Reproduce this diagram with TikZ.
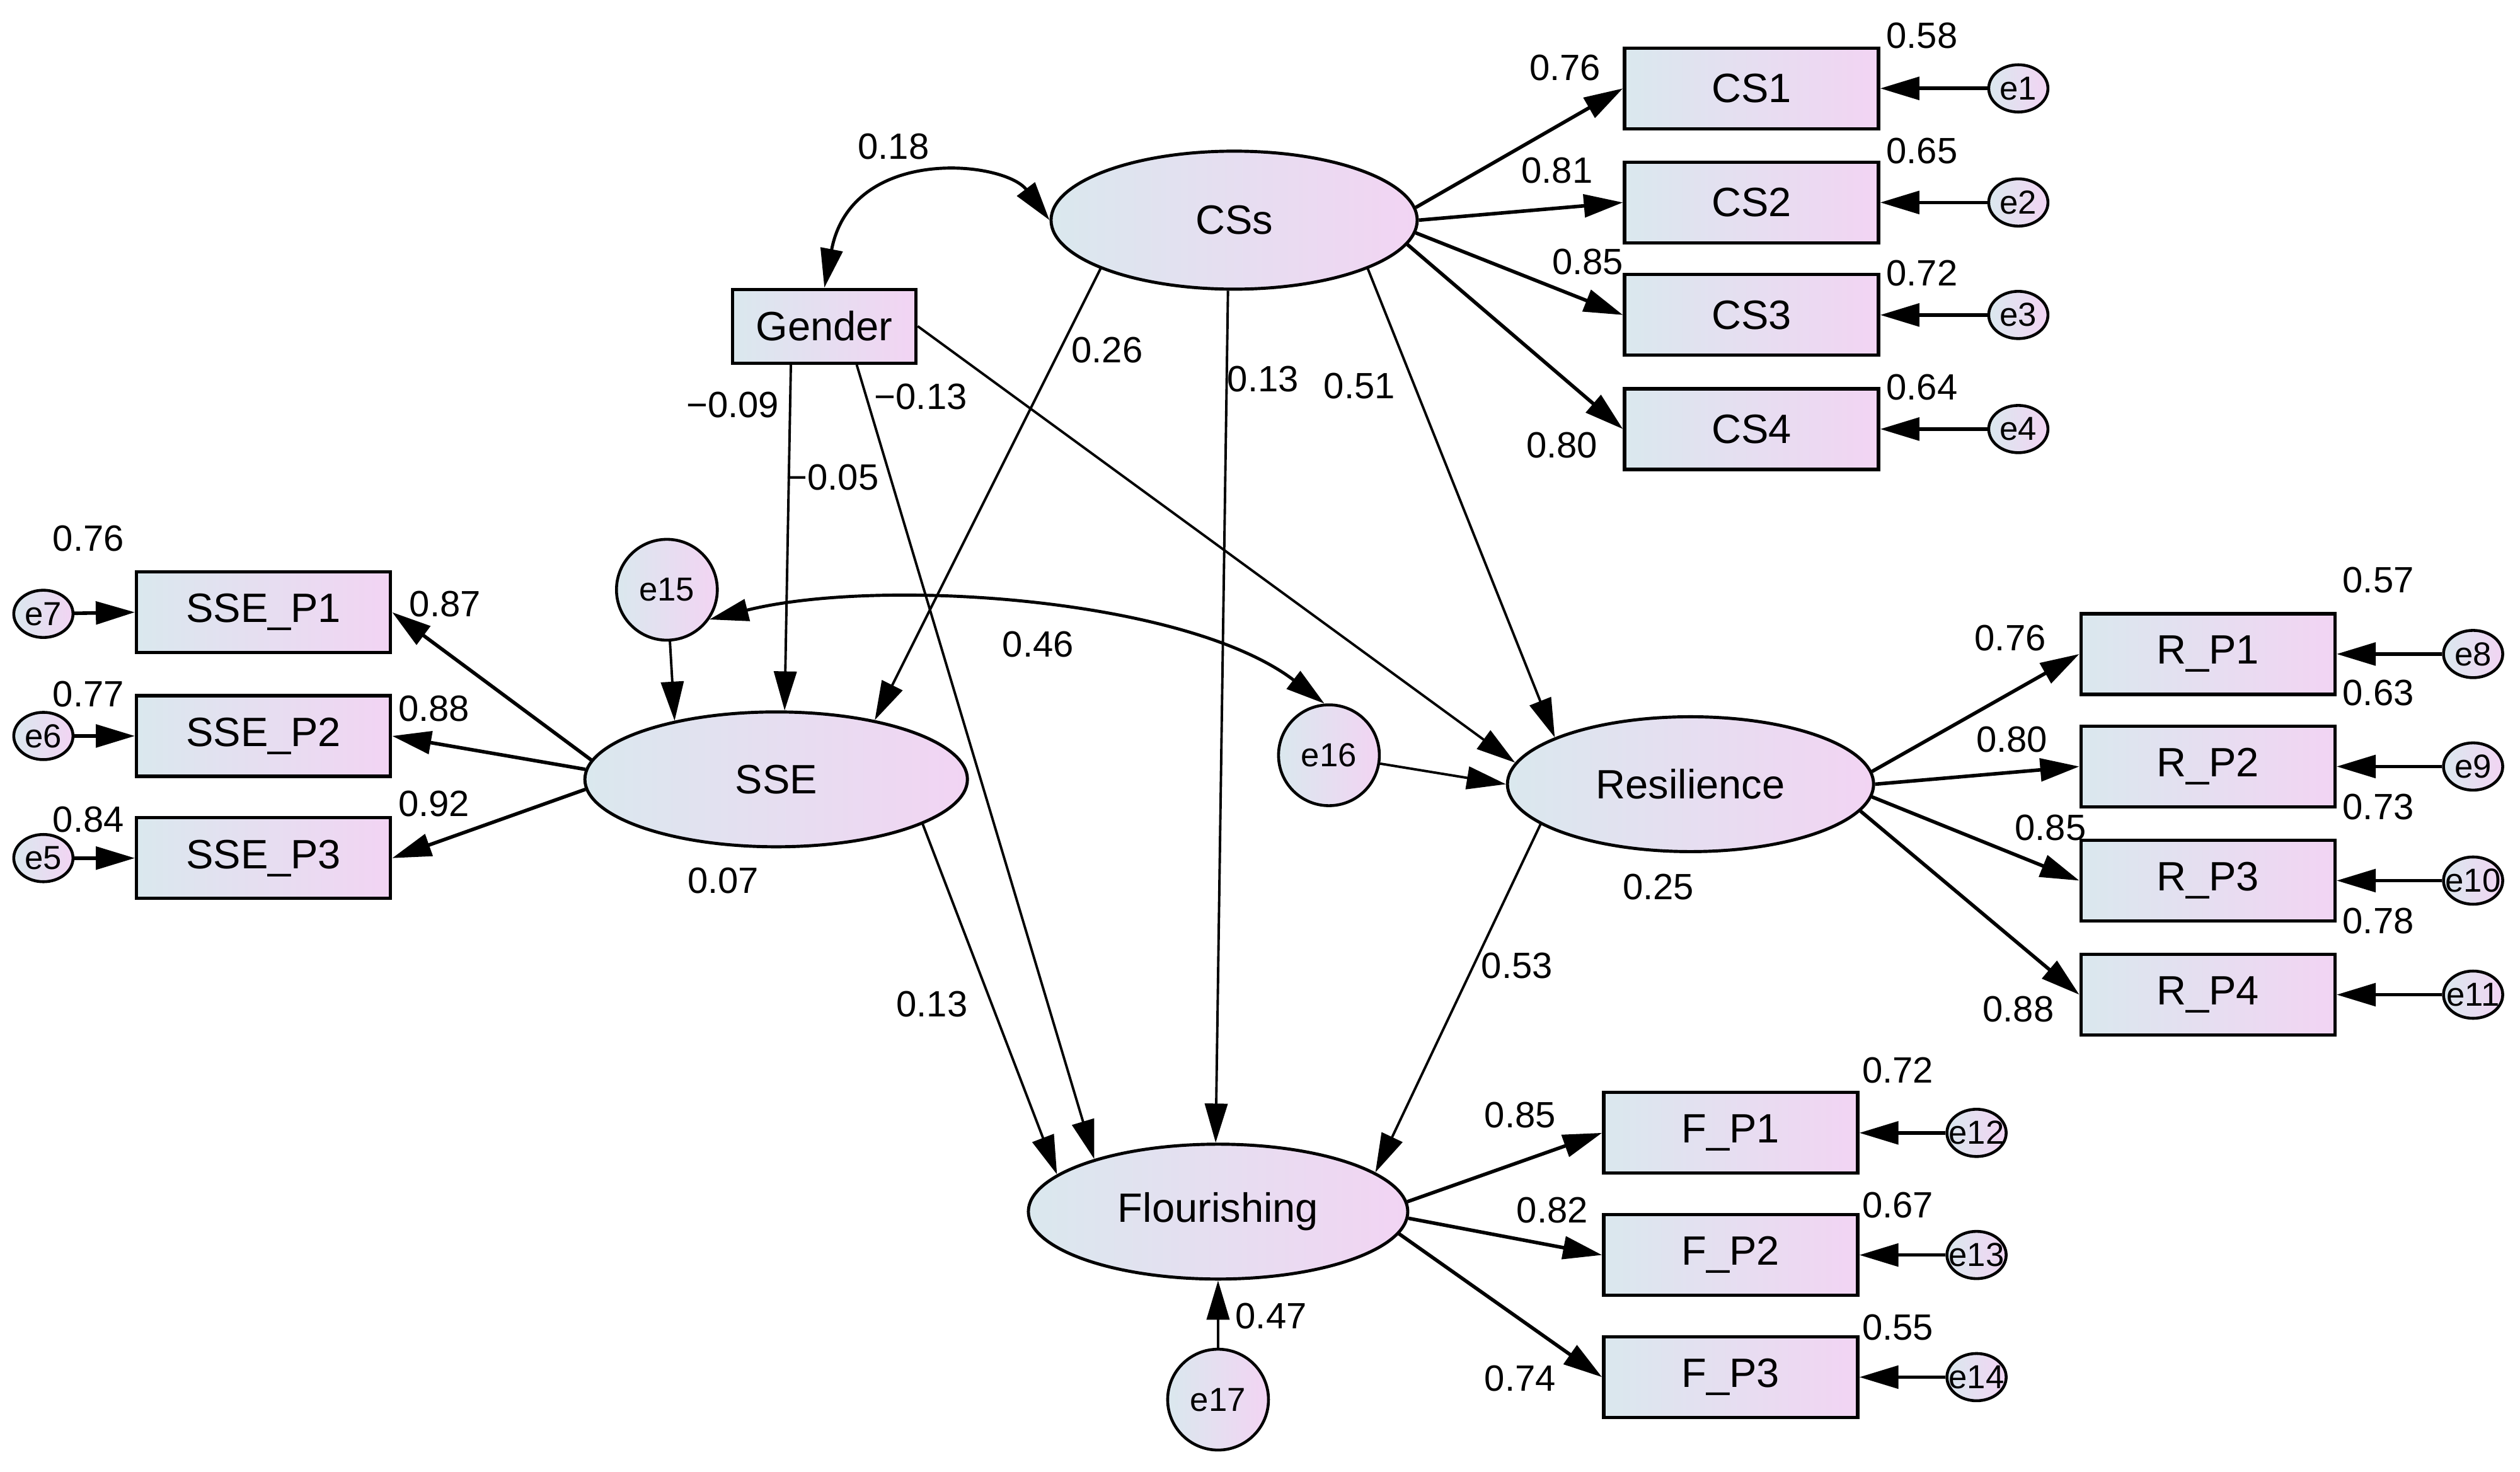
\documentclass[tikz,border=0pt]{standalone}
\usepackage{fontspec}
\setmainfont{Liberation Sans}
\usetikzlibrary{shapes.geometric,arrows.meta}
\definecolor{cL}{RGB}{218,232,238}
\definecolor{cR}{RGB}{242,212,243}
\newcommand\NdFont{\fontsize{18.5}{22}\selectfont}
\newcommand\NmFont{\fontsize{16.5}{20}\selectfont}
\newcommand\ErFont{\fontsize{15}{18}\selectfont}
\tikzset{
  box/.style={rectangle, draw, line width=1.5pt, left color=cL, right color=cR, inner sep=0pt,
    minimum width=4.03cm, minimum height=1.28cm, font=\NdFont},
  lat/.style={ellipse, draw, line width=1.4pt, left color=cL, right color=cR, inner sep=0pt, font=\NdFont},
  errs/.style={ellipse, draw, line width=1.3pt, left color=cL, right color=cR, inner sep=0pt,
    minimum width=0.94cm, minimum height=0.75cm, font=\ErFont},
  errb/.style={ellipse, draw, line width=1.3pt, left color=cL, right color=cR, inner sep=0pt,
    minimum width=1.6cm, minimum height=1.6cm, font=\ErFont},
  num/.style={inner sep=0pt, font=\NmFont},
  arr/.style={-{Triangle[length=0.62cm,width=0.36cm]}, line width=1.1pt},
  arrT/.style={-{Triangle[length=0.62cm,width=0.36cm]}, line width=1.6pt},
  darr/.style={{Triangle[length=0.62cm,width=0.35cm]}-{Triangle[length=0.62cm,width=0.35cm]}, line width=1.4pt},
}
\begin{document}
\begin{tikzpicture}[x=0.0255cm, y=-0.0255cm]
\useasboundingbox (0,0) rectangle (1568.2,915.7);
% latent variables
\node[lat, minimum width=5.81cm, minimum height=2.19cm] (CSs) at (768,137) {\makebox[0pt]{CSs}};
\node[lat, minimum width=6.07cm, minimum height=2.14cm] (SSE) at (483,485) {\makebox[0pt]{SSE}};
\node[lat, minimum width=5.81cm, minimum height=2.14cm] (Res) at (1052,488) {\makebox[0pt]{Resilience}};
\node[lat, minimum width=6.02cm, minimum height=2.14cm] (Flo) at (758,754) {\makebox[0pt]{Flourishing}};
\node[box, minimum width=2.91cm, minimum height=1.17cm] (Gen) at (513,203) {Gender};
% CS indicators
\node[box] (CS1) at (1090,55) {CS1};
\node[box] (CS2) at (1090,126) {CS2};
\node[box] (CS3) at (1090,196) {CS3};
\node[box] (CS4) at (1090,267) {CS4};
\node[errs] (e1) at (1256,55) {\makebox[0pt]{e1}};
\node[errs] (e2) at (1256,126) {\makebox[0pt]{e2}};
\node[errs] (e3) at (1256,196) {\makebox[0pt]{e3}};
\node[errs] (e4) at (1256,267) {\makebox[0pt]{e4}};
% SSE indicators
\node[box] (SP1) at (164,381) {SSE\_P1};
\node[box] (SP2) at (164,458) {SSE\_P2};
\node[box] (SP3) at (164,534) {SSE\_P3};
\node[errs] (e7) at (27,382) {\makebox[0pt]{e7}};
\node[errs] (e6) at (27,458) {\makebox[0pt]{e6}};
\node[errs] (e5) at (27,534) {\makebox[0pt]{e5}};
% Resilience indicators
\node[box] (RP1) at (1374,407) {R\_P1};
\node[box] (RP2) at (1374,477) {R\_P2};
\node[box] (RP3) at (1374,548) {R\_P3};
\node[box] (RP4) at (1374,619) {R\_P4};
\node[errs] (e8) at (1539,407) {\makebox[0pt]{e8}};
\node[errs] (e9) at (1539,477) {\makebox[0pt]{e9}};
\node[errs] (e10) at (1539,548) {\makebox[0pt]{e10}};
\node[errs] (e11) at (1539,619) {\makebox[0pt]{e11}};
% Flourishing indicators
\node[box] (FP1) at (1077,705) {F\_P1};
\node[box] (FP2) at (1077,781) {F\_P2};
\node[box] (FP3) at (1077,857) {F\_P3};
\node[errs] (e12) at (1230,705) {\makebox[0pt]{e12}};
\node[errs] (e13) at (1230,781) {\makebox[0pt]{e13}};
\node[errs] (e14) at (1230,857) {\makebox[0pt]{e14}};
% disturbances
\node[errb] (e15) at (415,367) {\makebox[0pt]{e15}};
\node[errb] (e16) at (827,470) {\makebox[0pt]{e16}};
\node[errb] (e17) at (758,871) {\makebox[0pt]{e17}};

% measurement paths
\draw[arrT] (CSs.4) -- (CS1.west);
\draw[arrT] (CSs.0) -- (CS2.west);
\draw[arrT] (CSs.-4) -- (CS3.west);
\draw[arrT] (CSs.-8) -- (CS4.west);
\draw[arrT] (e1) -- (CS1.east);
\draw[arrT] (e2) -- (CS2.east);
\draw[arrT] (e3) -- (CS3.east);
\draw[arrT] (e4) -- (CS4.east);
\draw[arrT] (SSE.174) -- (SP1.east);
\draw[arrT] (SSE.177) -- (SP2.east);
\draw[arrT] (SSE.183) -- (SP3.east);
\draw[arrT] (e7) -- (SP1.west);
\draw[arrT] (e6) -- (SP2.west);
\draw[arrT] (e5) -- (SP3.west);
\draw[arrT] (Res.4) -- (RP1.west);
\draw[arrT] (Res.0) -- (RP2.west);
\draw[arrT] (Res.-4) -- (RP3.west);
\draw[arrT] (Res.-9) -- (RP4.west);
\draw[arrT] (e8) -- (RP1.east);
\draw[arrT] (e9) -- (RP2.east);
\draw[arrT] (e10) -- (RP3.east);
\draw[arrT] (e11) -- (RP4.east);
\draw[arrT] (Flo.3) -- (FP1.west);
\draw[arrT] (Flo.-2) -- (FP2.west);
\draw[arrT] (Flo.-7) -- (FP3.west);
\draw[arrT] (e12) -- (FP1.east);
\draw[arrT] (e13) -- (FP2.east);
\draw[arrT] (e14) -- (FP3.east);
% structural paths
\draw[arr] (CSs.200) -- (SSE.31);
\draw[arr] (CSs.265) -- (Flo.92);
\draw[arr] (CSs.-20) -- (Res.161);
\draw[arr] (Gen.229) -- (SSE.83);
\draw[arr] (Gen.-50) -- (Flo.157);
\draw[arr] (Gen.east) -- (Res.173);
\draw[arr] (e15) -- (SSE.150);
\draw[arr] (e16) -- (Res.west);
\draw[arr] (SSE.-17.5) -- (Flo.167);
\draw[arr] (Res.195) -- (Flo.14);
\draw[arr] (e17) -- (Flo.south);
% covariances
\draw[darr] (Gen.north) .. controls (530,90) and (625,100) .. (CSs.west);
\draw[darr] (e15.-35) .. controls (548,359) and (738,372) .. (e16.95);

% labels
\node[num] (n01) at (556,91) {0.18};
\node[num] (n02) at (689,218) {0.26};
\node[num] (n03) at (786,236) {0.13};
\node[num] (n04) at (846,240) {0.51};
\node[num] (n05) at (456,252) {−0.09};
\node[num] (n06) at (573,247) {−0.13};
\node[num] (n07) at (518,297) {−0.05};
\node[num] (n08) at (646,401) {0.46};
\node[num] (n09) at (580,625) {0.13};
\node[num] (n10) at (450,548) {0.07};
\node[num] (n11) at (1032,552) {0.25};
\node[num] (n12) at (944,601) {0.53};
\node[num] (n13) at (791,819) {0.47};
\node[num] (n14) at (974,42) {0.76};
\node[num] (n15) at (969,106) {0.81};
\node[num] (n16) at (988,163) {0.85};
\node[num] (n17) at (972,277) {0.80};
\node[num] (n18) at (1196,22) {0.58};
\node[num] (n19) at (1196,94) {0.65};
\node[num] (n20) at (1196,170) {0.72};
\node[num] (n21) at (1196,241) {0.64};
\node[num] (n22) at (55,335) {0.76};
\node[num] (n23) at (55,432) {0.77};
\node[num] (n24) at (55,510) {0.84};
\node[num] (n25) at (277,376) {0.87};
\node[num] (n26) at (270,441) {0.88};
\node[num] (n27) at (270,500) {0.92};
\node[num] (n28) at (1480,361) {0.57};
\node[num] (n29) at (1480,431) {0.63};
\node[num] (n30) at (1480,502) {0.73};
\node[num] (n31) at (1480,573) {0.78};
\node[num] (n32) at (1251,397) {0.76};
\node[num] (n33) at (1252,460) {0.80};
\node[num] (n34) at (1276,515) {0.85};
\node[num] (n35) at (1256,628) {0.88};
\node[num] (n36) at (1181,666) {0.72};
\node[num] (n37) at (1181,750) {0.67};
\node[num] (n38) at (1181,826) {0.55};
\node[num] (n39) at (946,694) {0.85};
\node[num] (n40) at (966,753) {0.82};
\node[num] (n41) at (946,858) {0.74};
\end{tikzpicture}
\end{document}
